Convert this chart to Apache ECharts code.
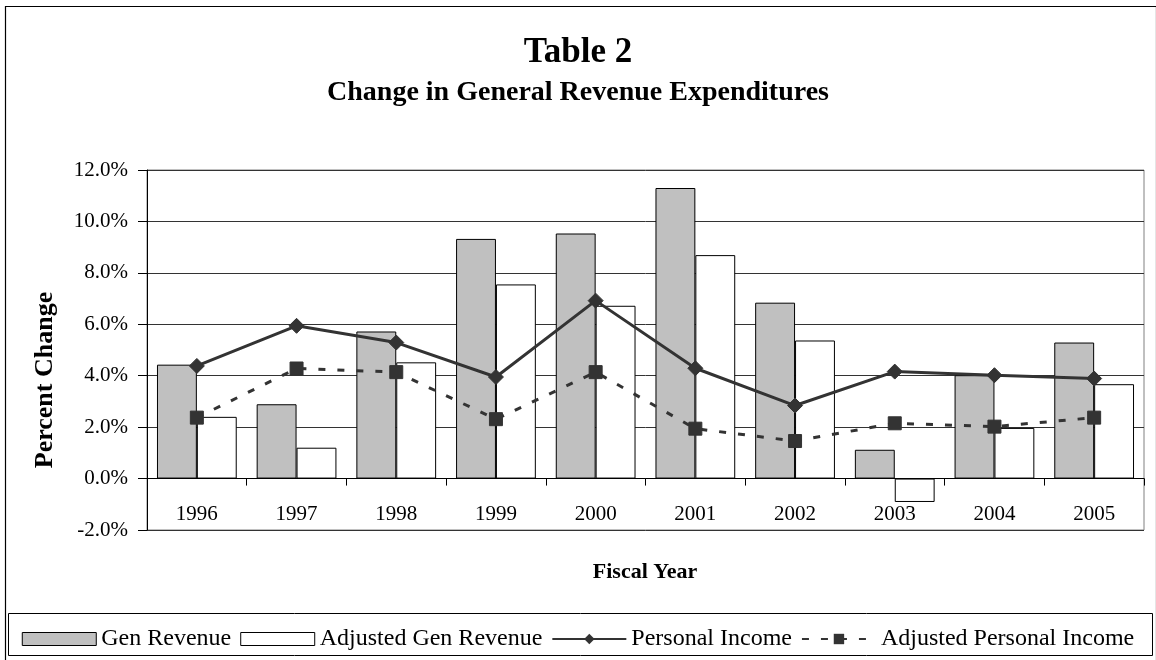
<!DOCTYPE html>
<html>
<head>
<meta charset="utf-8">
<script src="https://cdn.jsdelivr.net/npm/echarts@6/dist/echarts.min.js"></script>
<style>
  html, body { margin: 0; padding: 0; background: #fff; }
  #chart { width: 1156px; height: 660px; }
</style>
</head>
<body>
<div id="chart"></div>
<script>
const categories = ['1996', '1997', '1998', '1999', '2000', '2001', '2002', '2003', '2004', '2005'];
const genRevenue = [4.43, 2.89, 5.72, 9.32, 9.53, 11.30, 6.84, 1.12, 4.02, 5.29];
const adjGenRevenue = [2.40, 1.20, 4.52, 7.55, 6.72, 8.69, 5.37, -0.91, 1.97, 3.67];
const personalIncome = [4.38, 5.94, 5.29, 3.95, 6.92, 4.29, 2.84, 4.16, 4.02, 3.89];
const adjPersonalIncome = [2.37, 4.28, 4.14, 2.31, 4.14, 1.94, 1.46, 2.15, 2.02, 2.37];
const seriesNames = ['Gen Revenue', 'Adjusted Gen Revenue', 'Personal Income', 'Adjusted Personal Income'];
const yMin = -2, yMax = 12, yStep = 2;

const FONT = 'Liberation Serif';
const chart = echarts.init(document.getElementById('chart'), null, { renderer: 'canvas' });

const option = {
  backgroundColor: '#fff',
  animation: false,
  title: [
    { text: 'Table 2', left: 'center', top: 30,
      textStyle: { fontFamily: FONT, fontSize: 35, fontWeight: 'bold', color: '#000' } },
    { text: 'Change in General Revenue Expenditures', left: 'center', top: 74,
      textStyle: { fontFamily: FONT, fontSize: 28, fontWeight: 'bold', color: '#000' } }
  ],
  graphic: [
    { type: 'rect', left: 3, top: 4, silent: true, z: -10,
      shape: { width: 1151, height: 662 },
      style: { fill: null, stroke: '#000', lineWidth: 1.2 } },
    { type: 'rect', left: 8, top: 613, silent: true, z: -5,
      shape: { width: 1144, height: 42 },
      style: { fill: '#fff', stroke: '#000', lineWidth: 1 } },
    { type: 'text', x: 45, y: 380, rotation: Math.PI / 2,
      style: { text: 'Percent Change', fontFamily: FONT, fontSize: 26, fontWeight: 'bold',
               fill: '#000', align: 'center', verticalAlign: 'middle' } },
    { type: 'text', x: 645, y: 572,
      style: { text: 'Fiscal Year', fontFamily: FONT, fontSize: 22, fontWeight: 'bold',
               fill: '#000', align: 'center', verticalAlign: 'middle' } }
  ],
  legend: {
    left: 'center', top: 622,
    itemWidth: 74, itemHeight: 13, itemGap: 9,
    textStyle: { fontFamily: FONT, fontSize: 24, color: '#000' },
    data: [
      { name: seriesNames[0], icon: 'rect', itemStyle: { color: '#c0c0c0', borderColor: '#000', borderWidth: 1 } },
      { name: seriesNames[1], icon: 'rect', itemStyle: { color: '#fff', borderColor: '#000', borderWidth: 1 } },
      { name: seriesNames[2] },
      { name: seriesNames[3] }
    ]
  },
  grid: {
    left: 147, right: 12, top: 170, bottom: 130,
    show: true, borderColor: '#808080', borderWidth: 1, backgroundColor: '#fff'
  },
  xAxis: [
    {
      type: 'category',
      data: categories,
      boundaryGap: true,
      axisLine: { onZero: true, lineStyle: { color: '#000', width: 1 } },
      axisTick: { show: true, length: 7, lineStyle: { color: '#000' } },
      axisLabel: { show: false },
      splitLine: { show: false }
    },
    {
      type: 'category',
      data: categories,
      position: 'bottom',
      boundaryGap: true,
      axisLine: { show: false, onZero: false },
      axisTick: { show: false },
      axisLabel: { inside: true, margin: 5, verticalAlign: 'bottom', fontFamily: FONT, fontSize: 21, color: '#000' },
      splitLine: { show: false }
    }
  ],
  yAxis: {
    type: 'value',
    min: yMin, max: yMax, interval: yStep,
    axisLine: { show: true, lineStyle: { color: '#000', width: 1 } },
    axisTick: { show: true, length: 9, lineStyle: { color: '#000' } },
    axisLabel: { margin: 19, fontFamily: FONT, fontSize: 21, color: '#000',
                 formatter: v => v.toFixed(1) + '%' },
    splitLine: { show: true, lineStyle: { color: '#333', width: 1 } }
  },
  series: [
    { name: seriesNames[0], type: 'bar', data: genRevenue,
      barGap: '0%', barCategoryGap: '20%',
      itemStyle: { color: '#c0c0c0', borderColor: '#000', borderWidth: 1 } },
    { name: seriesNames[1], type: 'bar', data: adjGenRevenue,
      barGap: '0%', barCategoryGap: '20%',
      itemStyle: { color: '#fff', borderColor: '#000', borderWidth: 1 } },
    { name: seriesNames[2], type: 'line', data: personalIncome, z: 5,
      symbol: 'diamond', symbolSize: 15,
      lineStyle: { color: '#333', width: 3 },
      itemStyle: { color: '#333', borderColor: '#333' } },
    { name: seriesNames[3], type: 'line', data: adjPersonalIncome, z: 5,
      symbol: 'rect', symbolSize: 13,
      lineStyle: { color: '#333', width: 3, type: [7, 12] },
      itemStyle: { color: '#333', borderColor: '#333' } }
  ]
};
chart.setOption(option);
</script>
</body>
</html>
